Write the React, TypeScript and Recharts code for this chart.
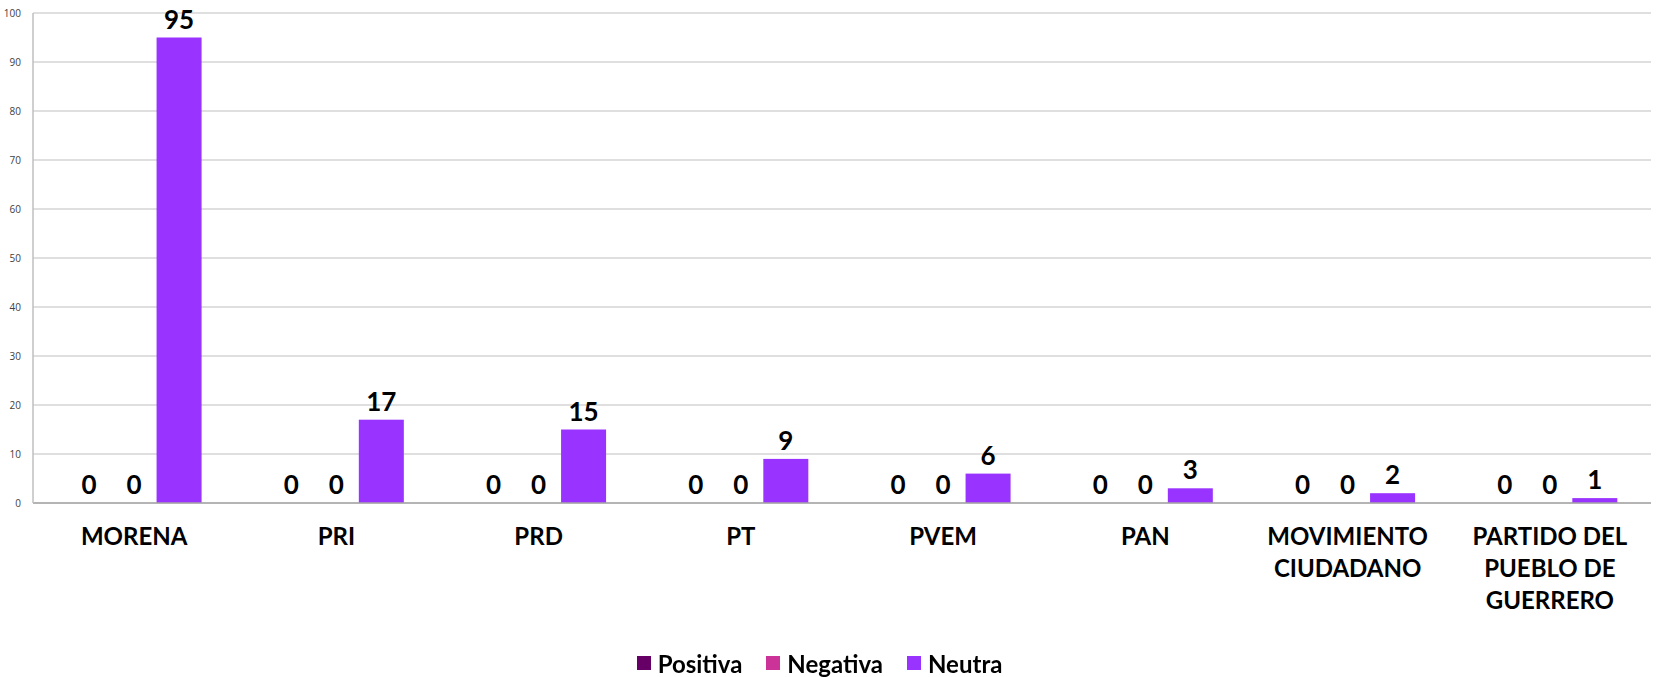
import { BarChart, Bar, XAxis, YAxis, CartesianGrid, Legend } from "recharts";

const partidos = [
  "MORENA",
  "PRI",
  "PRD",
  "PT",
  "PVEM",
  "PAN",
  "MOVIMIENTO CIUDADANO",
  "PARTIDO DEL PUEBLO DE GUERRERO",
];
// how each category label is broken into lines under the axis
const etiquetas = [
  ["MORENA"],
  ["PRI"],
  ["PRD"],
  ["PT"],
  ["PVEM"],
  ["PAN"],
  ["MOVIMIENTO", "CIUDADANO"],
  ["PARTIDO DEL", "PUEBLO DE", "GUERRERO"],
];
const positiva = [0, 0, 0, 0, 0, 0, 0, 0];
const negativa = [0, 0, 0, 0, 0, 0, 0, 0];
const neutra = [95, 17, 15, 9, 6, 3, 2, 1];
const yTicks = [0, 10, 20, 30, 40, 50, 60, 70, 80, 90, 100];

const series = [
  { key: "positiva", name: "Positiva", color: "#660066" },
  { key: "negativa", name: "Negativa", color: "#CC3399" },
  { key: "neutra", name: "Neutra", color: "#9933FF" },
];

const data = partidos.map((p, i) => ({
  partido: p,
  positiva: positiva[i],
  negativa: negativa[i],
  neutra: neutra[i],
}));

const FONT = "Lato, 'Open Sans', sans-serif";

function PartyTick({ x, y, payload, index }: any) {
  const lines = etiquetas[index] ?? [payload.value];
  return (
    <text
      x={x}
      y={y + 34}
      textAnchor="middle"
      fontFamily={FONT}
      fontWeight={700}
      fontSize={24}
      fill="#000"
    >
      {lines.map((l: string, i: number) => (
        <tspan key={i} x={x} dy={i === 0 ? 0 : 32}>
          {l}
        </tspan>
      ))}
    </text>
  );
}

function BarWithLabel(props: any) {
  const { x, y, width, height, fill, value } = props;
  const v = Array.isArray(value) ? value[1] - value[0] : value;
  return (
    <g>
      {height > 0 && <rect x={x} y={y} width={width} height={height} fill={fill} />}
      <text
        x={x + width / 2}
        y={y - 9}
        textAnchor="middle"
        fontFamily={FONT}
        fontWeight={700}
        fontSize={26}
        fill="#000"
      >
        {v}
      </text>
    </g>
  );
}

function LegendBox() {
  return (
    <div
      style={{
        display: "flex",
        justifyContent: "center",
        alignItems: "center",
        height: 28,
        fontFamily: FONT,
        fontWeight: 700,
        fontSize: 24,
        color: "#000",
        paddingLeft: 12,
      }}
    >
      {series.map((s) => (
        <span key={s.key} style={{ display: "flex", alignItems: "center", marginRight: 24 }}>
          <span style={{ width: 14, height: 14, background: s.color, display: "inline-block", marginRight: 7 }} />
          {s.name}
        </span>
      ))}
    </div>
  );
}

export default function App() {
  return (
    <div style={{ position: "fixed", left: 0, top: 0, background: "#fff" }}>
      <BarChart
        width={1661}
        height={677}
        data={data}
        margin={{ top: 13, right: 10, left: 0, bottom: 0 }}
        barGap={0}
        barCategoryGap="16.6%"
      >
        <CartesianGrid vertical={false} stroke="#bfbfbf" strokeWidth={1} />
        <XAxis
          dataKey="partido"
          interval={0}
          height={146}
          tickLine={false}
          axisLine={{ stroke: "#a6a6a6", strokeWidth: 1.5 }}
          tick={<PartyTick />}
        />
        <YAxis
          width={33}
          domain={[0, 100]}
          ticks={yTicks}
          tickLine={false}
          axisLine={{ stroke: "#bfbfbf", strokeWidth: 1.5 }}
          tick={{ fontSize: 10, fill: "#404040", fontFamily: "'Open Sans', sans-serif" }}
          tickMargin={6}
        />
        <Legend verticalAlign="bottom" align="center" content={<LegendBox />} />
        {series.map((s) => (
          <Bar
            key={s.key}
            dataKey={s.key}
            name={s.name}
            fill={s.color}
            isAnimationActive={false}
            shape={<BarWithLabel />}
          />
        ))}
      </BarChart>
    </div>
  );
}
